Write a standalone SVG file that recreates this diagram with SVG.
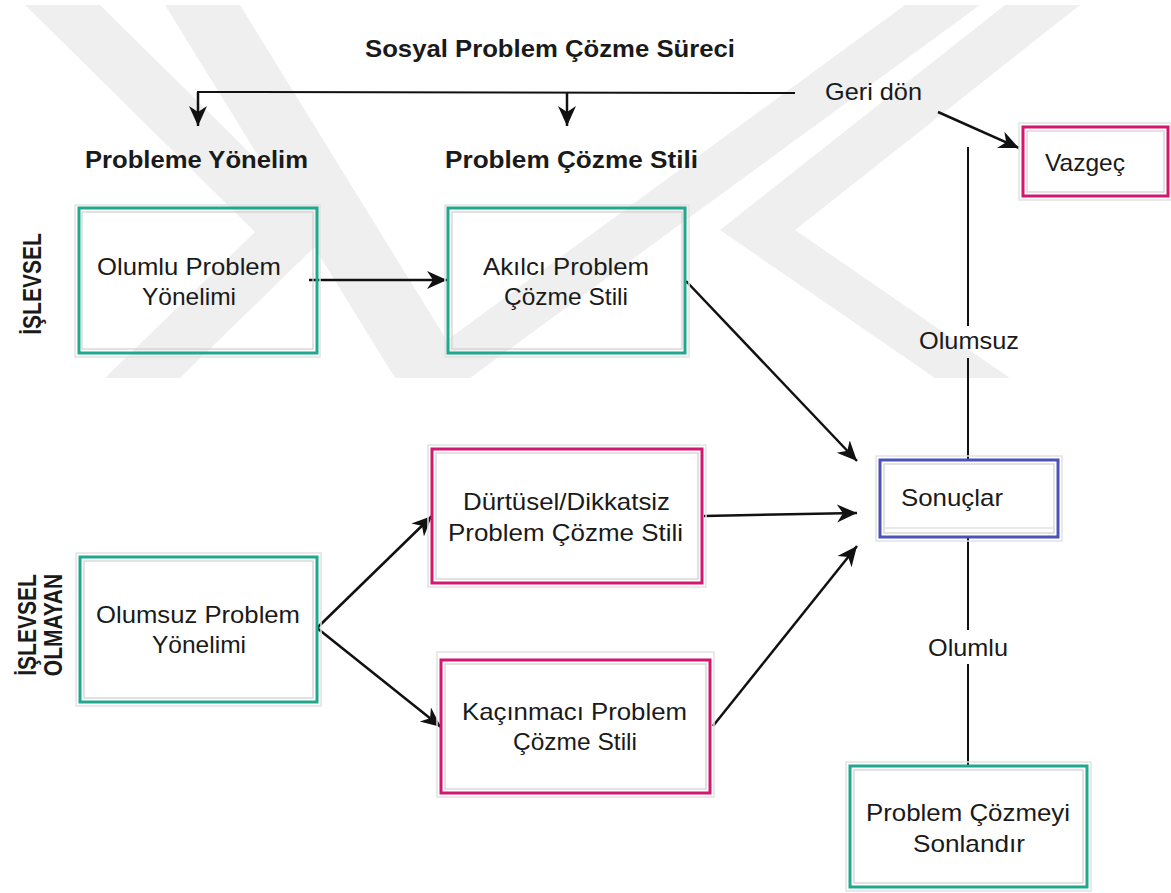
<svg xmlns="http://www.w3.org/2000/svg" width="1171" height="893" viewBox="0 0 1171 893">
  <style>
    text { font-family: "Liberation Sans", Arial, Helvetica, sans-serif; fill: #1a1a1a; }
    .h { font-size: 24px; font-weight: bold; }
    .v { font-size: 21px; font-weight: bold; }
    .t { font-size: 24px; }
    .shadow { fill: none; stroke: #e2e2e2; stroke-width: 1.5; }
    .inner { fill: none; stroke: #cfcfcf; stroke-width: 1.2; }
    .teal { fill: none; stroke: #1fa88c; stroke-width: 3; }
    .pink { fill: none; stroke: #d1176f; stroke-width: 3; }
    .blue { fill: none; stroke: #4b52b9; stroke-width: 3; }
    .wm { fill: #efefef; }
    .line { fill: none; stroke: #111; stroke-width: 2; }
    .arrow { fill: none; stroke: #111; stroke-width: 2.5; marker-end: url(#head); }
  </style>
  <defs>
    <marker id="head" markerUnits="userSpaceOnUse" markerWidth="22" markerHeight="20" refX="20" refY="10" orient="auto">
      <path d="M0,1 L20,10 L0,19 L6,10 z" fill="#111"/>
    </marker>
  </defs>

  <rect width="1171" height="893" fill="#ffffff"/>

  <!-- faint background emblem -->
  <g id="emblem">
    <polygon class="wm" points="25,5 100,5 330,232 180,378 105,378 255,232"/>
    <polygon class="wm" points="165,5 240,5 470,378 395,378"/>
    <polygon class="wm" points="905,5 980,5 470,378 395,378"/>
    <polygon class="wm" points="1005,5 1080,5 795,230 1010,378 935,378 720,230"/>
  </g>

  <!-- title and column headings -->
  <text class="h" x="365" y="57" textLength="370" lengthAdjust="spacingAndGlyphs">Sosyal Problem Çözme Süreci</text>
  <text class="h" x="85" y="168" textLength="223" lengthAdjust="spacingAndGlyphs">Probleme Yönelim</text>
  <text class="h" x="445" y="168" textLength="253" lengthAdjust="spacingAndGlyphs">Problem Çözme Stili</text>

  <!-- row labels -->
  <g id="row-labels">
    <text class="v" text-anchor="middle" transform="translate(41,284) scale(1.2,1) rotate(-90)">İŞLEVSEL</text>
    <text class="v" text-anchor="middle" transform="translate(36,625) scale(1.2,1) rotate(-90)">İŞLEVSEL</text>
    <text class="v" text-anchor="middle" transform="translate(62,625) scale(1.2,1) rotate(-90)">OLMAYAN</text>
  </g>

  <!-- connectors -->
  <g id="connectors">
    <polyline class="line" points="795,93 198,92 198,100"/>
    <line class="arrow" x1="198" y1="92" x2="198" y2="126"/>
    <line class="arrow" x1="567" y1="92" x2="567" y2="126"/>
    <line class="arrow" x1="938" y1="112" x2="1019" y2="148"/>
    <line class="line" x1="968" y1="147" x2="968" y2="326"/>
    <line class="line" x1="968" y1="358" x2="968" y2="460"/>
    <line class="line" x1="968" y1="537" x2="968" y2="630"/>
    <line class="line" x1="968" y1="664" x2="968" y2="766"/>
    <line class="arrow" x1="309" y1="280" x2="447" y2="280"/>
    <line class="arrow" x1="686" y1="281" x2="857" y2="461"/>
    <line class="arrow" x1="704" y1="516" x2="857" y2="513"/>
    <line class="arrow" x1="713" y1="726" x2="857" y2="546"/>
    <line class="arrow" x1="317" y1="628" x2="432" y2="516"/>
    <line class="arrow" x1="317" y1="628" x2="441" y2="727"/>
  </g>
  <text class="t" x="825" y="100" textLength="97" lengthAdjust="spacingAndGlyphs">Geri dön</text>
  <text class="t" x="919" y="349" textLength="100" lengthAdjust="spacingAndGlyphs">Olumsuz</text>
  <text class="t" x="928" y="656" textLength="80" lengthAdjust="spacingAndGlyphs">Olumlu</text>

  <!-- nodes -->
  <g id="olumlu-yonelim">
    <rect class="shadow" x="75" y="205" width="245" height="152"/>
    <rect class="inner" x="82" y="212" width="231" height="137"/>
    <rect class="teal" x="79" y="208" width="238" height="145"/>
    <text class="t" x="97" y="275" textLength="184" lengthAdjust="spacingAndGlyphs">Olumlu Problem</text>
    <text class="t" x="142" y="305" textLength="94" lengthAdjust="spacingAndGlyphs">Yönelimi</text>
  </g>

  <g id="akilci">
    <rect class="shadow" x="445" y="205" width="244" height="152"/>
    <rect class="inner" x="452" y="212" width="230" height="137"/>
    <rect class="teal" x="448" y="208" width="237" height="145"/>
    <text class="t" x="483" y="275" textLength="166" lengthAdjust="spacingAndGlyphs">Akılcı Problem</text>
    <text class="t" x="504" y="305" textLength="124" lengthAdjust="spacingAndGlyphs">Çözme Stili</text>
  </g>

  <g id="vazgec">
    <rect class="shadow" x="1019" y="123" width="152" height="77"/>
    <rect class="inner" x="1027" y="131" width="137" height="61"/>
    <rect class="pink" x="1023" y="127" width="145" height="69"/>
    <text class="t" x="1045" y="171" textLength="80" lengthAdjust="spacingAndGlyphs">Vazgeç</text>
  </g>

  <g id="durtusel">
    <rect class="shadow" x="428" y="445" width="278" height="142"/>
    <rect class="inner" x="436" y="453" width="262" height="126"/>
    <rect class="pink" x="432" y="449" width="270" height="134"/>
    <text class="t" x="463" y="510" textLength="207" lengthAdjust="spacingAndGlyphs">Dürtüsel/Dikkatsiz</text>
    <text class="t" x="448" y="541" textLength="235" lengthAdjust="spacingAndGlyphs">Problem Çözme Stili</text>
  </g>

  <g id="sonuclar">
    <rect class="shadow" x="876" y="456" width="186" height="85"/>
    <rect class="inner" x="884" y="464" width="170" height="69"/>
    <line x1="884" y1="528" x2="1054" y2="528" stroke="#d4d4d4" stroke-width="1.2"/>
    <rect class="blue" x="880" y="460" width="178" height="77"/>
    <text class="t" x="901" y="506" textLength="102" lengthAdjust="spacingAndGlyphs">Sonuçlar</text>
  </g>

  <g id="olumsuz-yonelim">
    <rect class="shadow" x="76" y="553" width="245" height="153"/>
    <rect class="inner" x="84" y="561" width="229" height="137"/>
    <rect class="teal" x="80" y="557" width="237" height="145"/>
    <text class="t" x="96" y="623" textLength="204" lengthAdjust="spacingAndGlyphs">Olumsuz Problem</text>
    <text class="t" x="152" y="653" textLength="94" lengthAdjust="spacingAndGlyphs">Yönelimi</text>
  </g>

  <g id="kacinmaci">
    <rect class="shadow" x="437" y="652" width="277" height="145"/>
    <rect class="inner" x="445" y="664" width="261" height="125"/>
    <rect class="pink" x="441" y="660" width="269" height="133"/>
    <text class="t" x="462" y="720" textLength="225" lengthAdjust="spacingAndGlyphs">Kaçınmacı Problem</text>
    <text class="t" x="513" y="750" textLength="124" lengthAdjust="spacingAndGlyphs">Çözme Stili</text>
  </g>

  <g id="sonlandir">
    <rect class="shadow" x="846" y="762" width="245" height="129"/>
    <rect class="inner" x="854" y="770" width="229" height="113"/>
    <rect class="teal" x="850" y="766" width="237" height="121"/>
    <text class="t" x="866" y="821" textLength="204" lengthAdjust="spacingAndGlyphs">Problem Çözmeyi</text>
    <text class="t" x="913" y="852" textLength="112" lengthAdjust="spacingAndGlyphs">Sonlandır</text>
  </g>
</svg>
